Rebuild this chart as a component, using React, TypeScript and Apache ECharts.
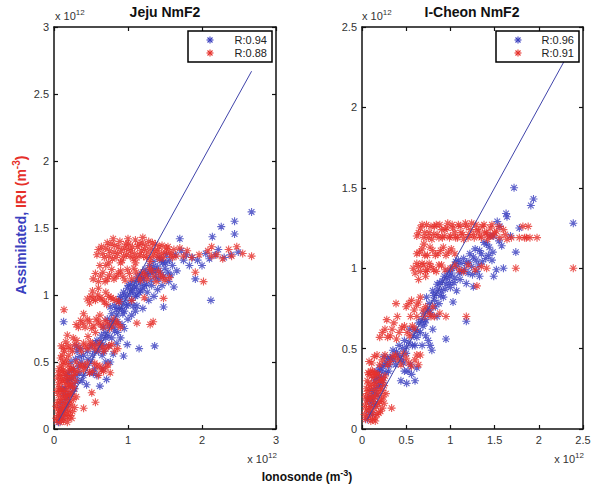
import { useEffect, useRef } from "react";
import * as echarts from "echarts";

// values in units of 10^12 m^-3
const JEJU_ASSIMILATED: [number, number][] = [
  [0.06,0.05],[0.08,0.09],[0.10,0.12],[0.12,0.08],[0.09,0.16],[0.14,0.14],[0.11,0.20],[0.16,0.22],[0.13,0.26],[0.18,0.18],
  [0.20,0.26],[0.15,0.30],[0.22,0.32],[0.18,0.36],[0.24,0.38],[0.20,0.42],[0.27,0.34],[0.26,0.45],[0.30,0.40],[0.23,0.50],
  [0.29,0.52],[0.33,0.47],[0.35,0.54],[0.31,0.58],[0.13,0.80],
  [0.38,0.36],[0.44,0.33],[0.48,0.42],[0.53,0.415],[0.58,0.40],[0.62,0.32],[0.66,0.45],[0.71,0.37],[0.70,0.50],[0.76,0.50],
  [0.80,0.56],[0.94,0.545],[0.85,0.64],[0.99,0.63],[0.90,0.68],[0.82,0.73],[0.95,0.75],
  [0.40,0.55],[0.45,0.58],[0.50,0.62],[0.55,0.58],[0.58,0.66],[0.62,0.62],[0.64,0.70],[0.67,0.76],[0.70,0.68],[0.72,0.82],
  [0.75,0.77],[0.76,0.91],[0.78,0.86],[0.80,0.80],[0.82,0.92],[0.85,0.85],[0.87,0.95],[0.88,0.90],[0.90,0.99],[0.92,0.94],
  [0.94,1.02],[0.95,0.88],[0.97,0.97],[0.99,1.05],[1.00,0.93],
  [1.02,1.00],[1.03,1.08],[1.05,0.96],[1.06,1.03],[1.08,1.10],[1.10,0.99],[1.11,1.06],[1.13,1.14],[1.15,1.02],[1.16,1.09],
  [1.18,1.16],[1.20,1.05],[1.21,1.12],[1.23,1.19],[1.25,1.08],[1.27,1.15],[1.29,1.22],[1.31,1.11],[1.33,1.18],[1.35,1.25],
  [1.37,1.14],[1.40,1.21],[1.42,1.28],[1.44,1.17],[1.47,1.24],[1.50,1.20],[1.52,1.30],
  [1.05,0.85],[1.12,0.92],[1.20,0.90],[1.28,0.96],[1.35,0.99],[1.48,0.91],[1.36,0.62],[1.15,0.60],[1.40,1.04],[1.46,1.07],
  [1.55,1.10],[1.62,1.06],[1.58,1.15],
  [1.56,1.26],[1.60,1.22],[1.64,1.30],[1.66,1.18],[1.70,1.42],[1.72,1.33],[1.75,1.26],[1.79,1.30],[1.83,1.22],[1.87,1.28],
  [1.91,1.12],[1.94,1.26],[2.00,1.22],[2.05,1.31],[2.10,1.27],[2.12,0.96],[2.14,1.435],[2.18,1.30],[2.22,1.34],[2.26,1.51],
  [2.30,1.28],[2.39,1.30],[2.44,1.55],[2.44,1.455],[2.49,1.32],[2.67,1.62],
  [0.34,0.42],[0.37,0.50],[0.42,0.47],[0.46,0.52],[0.52,0.55],[0.56,0.64],[0.60,0.58],[0.63,0.66],[0.66,0.63],[0.69,0.72],
  [0.73,0.70],[0.77,0.81],[0.81,0.76],[0.84,0.89],[0.86,0.80],[0.89,0.97],[0.91,0.90],[0.93,0.86],[0.96,1.00],[0.98,0.92],
  [1.01,1.07],[1.04,1.03],[1.07,0.92],[1.09,1.06],[1.12,1.00],[1.14,1.11],[1.17,1.03],[1.19,1.13],[1.22,1.07],[1.24,1.16],
  [1.26,1.02],[1.30,1.17],[1.32,1.07],[1.34,1.21],[1.38,1.18],[1.41,1.12],[1.45,1.26],[1.48,1.14],[1.51,1.24],[1.54,1.17],
  [0.16,0.40],[0.21,0.37],[0.25,0.28],[0.28,0.30],[0.19,0.24],[0.12,0.30],[0.24,0.44],[0.32,0.36],[0.40,0.40],[0.50,0.50],
  [0.55,0.45],[0.65,0.55],[0.74,0.62],[0.68,0.58],[0.78,0.68],[0.86,0.72],[0.92,0.78],[1.00,0.82],[1.10,0.88],[0.30,0.62],
  [0.36,0.60],
];

const JEJU_IRI: [number, number][] = [
  [0.04,0.06],[0.06,0.10],[0.05,0.15],[0.08,0.05],[0.07,0.20],[0.09,0.13],[0.10,0.07],[0.11,0.17],[0.12,0.24],[0.08,0.28],
  [0.06,0.33],[0.10,0.30],[0.13,0.12],[0.14,0.20],[0.15,0.28],[0.12,0.36],[0.09,0.40],[0.16,0.10],[0.17,0.17],[0.18,0.25],
  [0.16,0.33],[0.13,0.44],[0.10,0.47],[0.19,0.08],[0.20,0.14],[0.21,0.21],[0.19,0.30],[0.18,0.38],[0.15,0.49],[0.22,0.10],
  [0.23,0.18],[0.24,0.26],[0.22,0.34],[0.25,0.13],[0.26,0.22],[0.27,0.30],[0.07,0.45],[0.05,0.38],[0.11,0.55],[0.14,0.58],
  [0.28,0.16],[0.06,0.25],[0.03,0.08],[0.30,0.24],
  [0.05,0.20],[0.07,0.12],[0.09,0.22],[0.11,0.09],[0.12,0.15],[0.13,0.28],[0.14,0.36],[0.15,0.16],[0.16,0.24],[0.17,0.40],
  [0.18,0.12],[0.19,0.20],[0.20,0.33],[0.21,0.44],[0.22,0.26],[0.23,0.38],[0.24,0.08],[0.25,0.32],[0.26,0.40],[0.08,0.35],
  [0.10,0.38],[0.11,0.43],[0.12,0.50],[0.09,0.53],[0.07,0.30],[0.06,0.42],[0.17,0.52],[0.20,0.55],[0.04,0.28],[0.03,0.17],
  [0.29,0.36],[0.28,0.42],[0.13,0.06],[0.18,0.05],[0.15,0.42],
  [0.51,0.27],[0.56,0.20],[0.40,0.155],[0.135,0.89],
  [0.20,0.48],[0.26,0.45],[0.30,0.50],[0.35,0.47],[0.40,0.44],[0.45,0.49],[0.52,0.43],[0.58,0.47],[0.64,0.44],[0.70,0.46],
  [0.76,0.42],[0.60,0.40],
  [0.23,0.45],[0.32,0.43],[0.38,0.48],[0.43,0.46],[0.48,0.42],[0.55,0.49],[0.62,0.47],[0.67,0.43],[0.73,0.48],
  [0.10,0.62],[0.16,0.65],[0.22,0.60],[0.28,0.63],[0.34,0.61],[0.40,0.64],[0.46,0.60],[0.52,0.63],[0.58,0.59],[0.64,0.62],
  [0.70,0.60],[0.78,0.63],[0.86,0.60],[0.18,0.70],[0.26,0.68],
  [0.13,0.60],[0.19,0.62],[0.25,0.58],[0.31,0.66],[0.37,0.58],[0.43,0.62],[0.49,0.65],[0.55,0.61],[0.61,0.64],[0.67,0.58],
  [0.74,0.62],[0.82,0.58],
  [0.30,0.78],[0.36,0.81],[0.42,0.76],[0.48,0.80],[0.54,0.77],[0.60,0.80],[0.66,0.76],[0.72,0.79],[0.78,0.77],[0.84,0.80],
  [0.90,0.76],[1.12,0.79],[1.30,0.78],[1.34,0.80],[0.46,0.69],[0.40,0.86],
  [0.33,0.76],[0.39,0.79],[0.45,0.82],[0.51,0.75],[0.57,0.82],[0.63,0.78],[0.69,0.81],[0.75,0.75],[0.81,0.82],[0.87,0.78],
  [0.56,0.72],[0.62,0.85],
  [0.45,0.97],[0.50,0.99],[0.56,0.96],[0.62,0.98],[0.68,0.95],[0.74,0.99],[0.80,0.97],[0.88,0.95],[1.05,0.96],[1.22,0.98],
  [1.48,0.975],[0.52,1.03],[0.60,1.05],[0.70,1.02],
  [0.48,0.94],[0.53,0.97],[0.59,1.00],[0.65,0.97],[0.71,0.93],[0.77,0.98],[0.84,0.96],
  [0.53,1.12],[0.60,1.10],[0.66,1.17],[0.72,1.12],[0.78,1.19],[0.84,1.14],[0.90,1.18],[0.96,1.11],[1.02,1.16],[1.08,1.20],
  [1.14,1.13],[1.20,1.17],[1.26,1.12],[1.32,1.18],[1.38,1.10],[1.44,1.15],[1.50,1.11],[1.56,1.13],[0.62,1.22],[0.74,1.24],
  [0.56,1.16],[0.63,1.14],[0.69,1.10],[0.75,1.15],[0.81,1.12],[0.87,1.16],[0.93,1.14],[0.99,1.19],[1.05,1.12],[1.11,1.17],
  [1.17,1.11],[1.23,1.15],[1.29,1.20],[1.35,1.14],[1.41,1.18],[1.47,1.13],
  [0.58,1.30],[0.64,1.36],[0.68,1.28],[0.72,1.39],[0.75,1.33],[0.79,1.27],[0.82,1.37],[0.86,1.31],[0.89,1.40],[0.92,1.26],
  [0.95,1.35],[0.98,1.30],[1.01,1.38],[1.04,1.33],[1.07,1.27],[1.10,1.41],[1.13,1.36],[1.16,1.30],[1.19,1.39],[1.22,1.34],
  [1.25,1.28],[1.28,1.40],[1.31,1.35],[1.34,1.30],[1.37,1.38],[1.40,1.33],[1.43,1.27],[1.46,1.37],[1.50,1.32],[1.54,1.36],
  [1.58,1.30],[1.62,1.34],[0.80,1.42],[1.00,1.42],[1.20,1.43],[0.70,1.22],[1.65,1.29],[1.70,1.35],
  [0.60,1.34],[0.66,1.31],[0.70,1.35],[0.74,1.29],[0.77,1.38],[0.81,1.32],[0.84,1.28],[0.87,1.36],[0.91,1.33],[0.94,1.29],
  [0.97,1.38],[1.00,1.34],[1.03,1.29],[1.06,1.36],[1.09,1.31],[1.12,1.28],[1.15,1.38],[1.18,1.33],[1.21,1.29],[1.24,1.37],
  [1.27,1.32],[1.30,1.28],[1.33,1.39],[1.36,1.33],[1.39,1.29],[1.42,1.36],[1.45,1.31],[1.48,1.28],[1.52,1.35],[1.56,1.32],
  [1.60,1.28],[0.90,1.24],[1.10,1.24],[1.30,1.25],
  [1.75,1.29],[1.80,1.33],[1.86,1.28],[1.91,1.17],[1.96,1.30],[2.02,1.10],[2.08,1.33],[2.13,1.36],[2.13,1.29],[2.20,1.30],
  [2.28,1.27],[2.36,1.34],[2.40,1.29],[2.47,1.36],[2.55,1.31],[2.67,1.29],
];

const ICHEON_ASSIMILATED: [number, number][] = [
  [0.06,0.06],[0.08,0.10],[0.10,0.14],[0.07,0.18],[0.12,0.09],[0.13,0.19],[0.11,0.24],[0.15,0.15],[0.16,0.25],[0.14,0.30],
  [0.18,0.21],[0.19,0.31],[0.17,0.36],[0.21,0.27],[0.22,0.36],[0.20,0.38],[0.24,0.32],[0.26,0.40],[0.28,0.41],[0.25,0.45],
  [0.30,0.36],[0.32,0.44],
  [0.35,0.49],[0.38,0.40],[0.40,0.46],[0.42,0.52],[0.45,0.43],[0.47,0.41],[0.48,0.55],[0.505,0.51],[0.505,0.284],[0.52,0.36],
  [0.54,0.62],[0.56,0.34],[0.58,0.58],[0.60,0.52],[0.62,0.57],[0.64,0.66],[0.66,0.60],[0.69,0.64],[0.70,0.72],[0.72,0.68],
  [0.73,0.82],[0.75,0.55],[0.76,0.78],[0.77,0.74],[0.77,0.52],[0.79,0.49],[0.80,0.86],[0.82,0.80],[0.84,0.84],[0.85,0.90],
  [0.87,0.78],[0.88,0.91],[0.90,0.86],[0.92,0.82],[0.93,0.95],[0.95,0.56],[0.95,0.90],[0.97,0.98],[0.995,0.95],[1.00,0.88],
  [1.02,1.00],[1.03,0.79],[1.05,0.94],[1.07,1.01],[1.07,0.86],[1.09,1.05],[1.11,0.93],[1.13,0.98],[1.15,1.06],[1.18,1.03],
  [1.18,0.905],[1.18,0.67],[1.20,0.97],[1.22,1.09],[1.24,1.01],[1.26,1.07],[1.26,0.885],[1.28,1.12],[1.30,0.98],[1.33,1.11],
  [1.33,0.95],[1.36,1.04],[1.38,1.16],[1.41,1.15],[1.43,1.08],[1.45,1.20],[1.47,1.05],[1.49,1.20],[1.49,0.95],[1.52,0.99],
  [1.53,1.29],[1.56,1.26],[1.58,1.14],[1.60,1.00],[1.63,1.34],[1.64,1.32],[1.68,1.20],[1.72,1.50],[1.74,1.10],[1.78,1.25],
  [1.91,1.39],[1.94,1.43],[2.39,1.28],[0.60,0.30],[0.62,0.38],[0.44,0.30],
  [0.09,0.20],[0.11,0.17],[0.14,0.22],[0.16,0.32],[0.18,0.27],[0.20,0.33],[0.23,0.29],[0.23,0.39],[0.27,0.35],[0.29,0.44],
  [0.31,0.40],[0.34,0.45],[0.36,0.43],[0.39,0.48],[0.43,0.45],[0.46,0.50],[0.50,0.47],[0.53,0.54],[0.57,0.52],[0.59,0.62],
  [0.63,0.61],[0.67,0.68],[0.71,0.66],[0.74,0.74],[0.78,0.71],[0.81,0.83],[0.83,0.76],[0.86,0.87],[0.89,0.83],[0.91,0.92],
  [0.94,0.87],[0.96,0.94],[0.99,0.91],[1.01,0.97],[1.04,0.91],[1.06,1.04],[1.10,0.97],[1.12,1.03],[1.16,0.99],[1.21,1.04],
  [1.25,0.96],[1.29,1.05],[1.32,1.02],[1.35,1.09],[1.40,1.06],[1.44,1.13],[1.48,1.10],[1.55,1.17],[0.72,0.58],[0.80,0.62],
  [0.68,0.52],[0.85,0.70],[0.55,0.40],[0.48,0.36],
];

const ICHEON_IRI: [number, number][] = [
  [0.04,0.06],[0.05,0.12],[0.06,0.18],[0.07,0.08],[0.08,0.24],[0.09,0.14],[0.10,0.05],[0.10,0.20],[0.11,0.28],[0.06,0.30],
  [0.12,0.10],[0.13,0.17],[0.14,0.24],[0.13,0.32],[0.08,0.34],[0.15,0.07],[0.16,0.14],[0.17,0.21],[0.16,0.29],[0.18,0.34],
  [0.19,0.10],[0.20,0.17],[0.21,0.25],[0.22,0.31],[0.23,0.13],[0.24,0.20],[0.25,0.27],[0.05,0.25],[0.12,0.36],[0.03,0.09],
  [0.26,0.33],[0.335,0.13],
  [0.05,0.16],[0.06,0.22],[0.07,0.28],[0.08,0.12],[0.09,0.19],[0.10,0.26],[0.11,0.33],[0.12,0.06],[0.13,0.13],[0.14,0.20],
  [0.15,0.27],[0.16,0.34],[0.17,0.09],[0.18,0.16],[0.19,0.23],[0.20,0.30],[0.21,0.11],[0.22,0.18],[0.23,0.24],[0.24,0.30],
  [0.07,0.35],[0.10,0.36],[0.14,0.35],[0.04,0.20],[0.04,0.14],[0.25,0.16],[0.27,0.22],[0.15,0.05],
  [0.08,0.42],[0.14,0.45],[0.20,0.40],[0.26,0.46],[0.32,0.42],[0.38,0.46],[0.44,0.40],[0.50,0.44],[0.56,0.39],[0.60,0.43],
  [0.64,0.40],[0.66,0.46],
  [0.11,0.41],[0.17,0.46],[0.23,0.43],[0.29,0.40],[0.35,0.45],[0.41,0.43],[0.47,0.47],[0.53,0.41],[0.62,0.46],
  [0.20,0.57],[0.26,0.62],[0.32,0.58],[0.36,0.66],[0.42,0.60],[0.48,0.64],[0.54,0.58],[0.60,0.62],[0.28,0.68],[0.40,0.70],
  [0.23,0.60],[0.29,0.57],[0.34,0.62],[0.39,0.56],[0.45,0.63],[0.51,0.60],[0.57,0.64],
  [0.385,0.78],[0.50,0.76],[0.56,0.80],[0.62,0.77],[0.66,0.82],[0.69,0.74],[0.55,0.70],[0.62,0.70],[0.70,0.70],[0.76,0.72],
  [0.82,0.70],[0.95,0.70],[1.18,0.70],[1.30,0.89],[0.80,0.76],
  [0.53,0.78],[0.59,0.74],[0.64,0.79],[0.72,0.76],[0.78,0.70],[0.88,0.72],
  [0.58,1.00],[0.62,1.03],[0.66,0.98],[0.70,1.02],[0.74,0.99],[0.78,1.01],[0.84,0.98],[0.90,1.02],[1.00,1.00],[1.10,0.99],
  [1.20,1.02],[1.28,0.99],[1.35,1.01],[1.41,1.00],[1.74,1.00],[2.39,1.00],[0.64,0.93],[0.72,0.95],
  [0.60,0.97],[0.64,1.01],[0.68,1.03],[0.72,0.98],[0.76,1.03],[0.81,0.99],[0.87,1.02],[0.94,0.99],[1.05,1.02],[1.15,0.98],
  [0.62,1.09],[0.68,1.12],[0.74,1.08],[0.80,1.11],[0.86,1.09],[0.92,1.13],[0.98,1.10],[1.05,1.09],[0.70,1.15],
  [0.65,1.10],[0.71,1.08],[0.77,1.13],[0.83,1.08],[0.89,1.11],[0.95,1.08],[1.01,1.12],
  [0.62,1.20],[0.66,1.25],[0.70,1.19],[0.73,1.27],[0.76,1.22],[0.79,1.18],[0.82,1.26],[0.85,1.21],[0.88,1.27],[0.91,1.19],
  [0.94,1.24],[0.97,1.28],[1.00,1.20],[1.03,1.25],[1.06,1.19],[1.09,1.27],[1.12,1.22],[1.15,1.18],[1.18,1.26],[1.21,1.21],
  [1.24,1.28],[1.27,1.19],[1.30,1.24],[1.33,1.20],[1.36,1.26],[1.39,1.22],[1.42,1.18],[1.45,1.25],[1.48,1.20],[1.52,1.23],
  [1.56,1.19],[1.60,1.24],[1.64,1.18],[1.69,1.19],[1.78,1.19],[1.84,1.19],[1.88,1.26],[1.90,1.19],[1.98,1.19],
  [0.64,1.22],[0.68,1.27],[0.71,1.22],[0.75,1.19],[0.78,1.26],[0.81,1.21],[0.84,1.27],[0.87,1.19],[0.90,1.24],[0.93,1.20],
  [0.96,1.25],[0.99,1.19],[1.02,1.27],[1.05,1.22],[1.08,1.19],[1.11,1.26],[1.14,1.21],[1.17,1.28],[1.20,1.19],[1.23,1.24],
  [1.26,1.21],[1.29,1.27],[1.32,1.23],[1.35,1.19],[1.38,1.27],[1.41,1.22],[1.44,1.20],[1.47,1.27],[1.50,1.22],[1.55,1.26],
  [1.62,1.21],[1.82,1.26],[1.86,1.19],
];

const TITLES = ["Jeju NmF2", "I-Cheon NmF2"];
const JEJU_LEGEND = ["R:0.94", "R:0.88"];
const ICHEON_LEGEND = ["R:0.96", "R:0.91"];
const JEJU_X_AXIS = [0, 3, 1]; // min, max, interval
const JEJU_Y_AXIS = [0, 3, 0.5];
const ICHEON_X_AXIS = [0, 2.5, 0.5];
const ICHEON_Y_AXIS = [0, 2.5, 0.5];

const BLUE = "#3a3fbf";
const RED = "#e6302a";
const LINE_BLUE = "#4044aa";
const FONT = '"Liberation Sans", Arial, Helvetica, sans-serif';
const ASTERISK = "path://M0,5L10,5M5,0L5,10M1.46,1.46L8.54,8.54M1.46,8.54L8.54,1.46";

const GRIDS = [
  { left: 54, top: 27, width: 222, height: 402 },
  { left: 362, top: 27, width: 221, height: 402 },
];
const LEGEND_BOXES = [
  { x: 188, y: 31, width: 84, height: 31 },
  { x: 496, y: 31, width: 83, height: 31 },
];

function axisPair(kind: "x" | "y", grid: number, range: number[]) {
  const [min, max, interval] = range;
  const common = {
    gridIndex: grid,
    type: "value",
    min,
    max,
    interval,
    splitLine: { show: false },
    axisLine: { show: true, onZero: false, lineStyle: { color: "#111", width: 1.5 } },
    axisTick: { show: true, inside: true, length: 4, lineStyle: { color: "#111", width: 1.2 } },
  };
  return [
    {
      ...common,
      position: kind === "x" ? "bottom" : "left",
      axisLabel: {
        show: true,
        fontSize: 11,
        color: "#333",
        fontFamily: FONT,
        margin: 5,
        showMinLabel: true,
        showMaxLabel: true,
      },
    },
    {
      ...common,
      position: kind === "x" ? "top" : "right",
      axisLabel: { show: false },
    },
  ];
}

function extent(pts: [number, number][]) {
  const xs = pts.map((p) => p[0]);
  return [Math.min(...xs), Math.max(...xs)];
}

function panelSeries(idx: number, blue: [number, number][], red: [number, number][], names: string[]) {
  const axisIdx = idx * 2;
  const [lo, hi] = extent(blue);
  const base = {
    type: "scatter",
    xAxisIndex: axisIdx,
    yAxisIndex: axisIdx,
    symbol: ASTERISK,
    symbolSize: 8,
  };
  return [
    { ...base, name: names[0], data: blue, itemStyle: { color: BLUE, borderColor: BLUE, borderWidth: 1.1 } },
    { ...base, name: names[1], data: red, itemStyle: { color: RED, borderColor: RED, borderWidth: 1.1 } },
    {
      type: "line",
      xAxisIndex: axisIdx,
      yAxisIndex: axisIdx,
      data: [[lo, lo], [hi, hi]],
      symbol: "none",
      z: 3,
      lineStyle: { color: LINE_BLUE, width: 1 },
    },
  ];
}

function asterisk(cx: number, cy: number, color: string) {
  const r = 3.5;
  const d = 2.5;
  const seg = (x1: number, y1: number, x2: number, y2: number) => ({
    type: "line",
    z: 101,
    shape: { x1, y1, x2, y2 },
    style: { stroke: color, lineWidth: 1.1 },
  });
  return {
    type: "group",
    x: cx,
    y: cy,
    z: 101,
    children: [seg(-r, 0, r, 0), seg(0, -r, 0, r), seg(-d, -d, d, d), seg(-d, d, d, -d)],
  };
}

function legendGraphic(box: { x: number; y: number; width: number; height: number }, names: string[]) {
  const starX = box.x + 22;
  const textX = box.x + box.width - 5;
  const rows = [box.y + 9, box.y + 22];
  return [
    {
      type: "rect",
      z: 100,
      shape: { ...box },
      style: { fill: "#fff", stroke: "#000", lineWidth: 1.5 },
    },
    asterisk(starX, rows[0], BLUE),
    asterisk(starX, rows[1], RED),
    ...names.map((n, i) => ({
      type: "text",
      z: 101,
      x: textX,
      y: rows[i],
      style: { text: n, fontSize: 11, fontFamily: FONT, fill: "#222", align: "right", verticalAlign: "middle" },
    })),
  ];
}

function expLabel(x: number, y: number, align: string) {
  return {
    type: "text",
    x,
    y,
    z: 100,
    style: {
      text: "{a|x 10}{s|12}",
      align,
      verticalAlign: "middle",
      rich: {
        a: { fontSize: 11, fontFamily: FONT, fill: "#333", lineHeight: 16 },
        s: { fontSize: 8, fontFamily: FONT, fill: "#333", verticalAlign: "top", lineHeight: 16 },
      },
    },
  };
}

export default function App() {
  const ref = useRef<HTMLDivElement>(null);
  useEffect(() => {
    if (!ref.current) return;
    const chart = echarts.init(ref.current, undefined, { renderer: "svg" });
    const [jx1, jx2] = axisPair("x", 0, JEJU_X_AXIS);
    const [jy1, jy2] = axisPair("y", 0, JEJU_Y_AXIS);
    const [cx1, cx2] = axisPair("x", 1, ICHEON_X_AXIS);
    const [cy1, cy2] = axisPair("y", 1, ICHEON_Y_AXIS);
    chart.setOption({
      animation: false,
      backgroundColor: "#fff",
      grid: GRIDS,
      xAxis: [jx1, jx2, cx1, cx2],
      yAxis: [jy1, jy2, cy1, cy2],
      series: [
        ...panelSeries(0, JEJU_ASSIMILATED, JEJU_IRI, JEJU_LEGEND),
        ...panelSeries(1, ICHEON_ASSIMILATED, ICHEON_IRI, ICHEON_LEGEND),
      ],
      graphic: [
        {
          type: "text",
          x: 165,
          y: 12,
          z: 100,
          style: { text: TITLES[0], fontSize: 14, fontWeight: "bold", fontFamily: FONT, fill: "#111", align: "center", verticalAlign: "middle" },
        },
        {
          type: "text",
          x: 472,
          y: 12,
          z: 100,
          style: { text: TITLES[1], fontSize: 14, fontWeight: "bold", fontFamily: FONT, fill: "#111", align: "center", verticalAlign: "middle" },
        },
        ...legendGraphic(LEGEND_BOXES[0], JEJU_LEGEND),
        ...legendGraphic(LEGEND_BOXES[1], ICHEON_LEGEND),
        expLabel(55, 16, "left"),
        expLabel(362, 16, "left"),
        expLabel(277, 459, "right"),
        expLabel(584, 459, "right"),
        {
          type: "text",
          x: 307,
          y: 477,
          z: 100,
          style: {
            text: "{a|Ionosonde (m}{s|-3}{a|)}",
            align: "center",
            verticalAlign: "middle",
            rich: {
              a: { fontSize: 12, fontWeight: "bold", fontFamily: FONT, fill: "#111", lineHeight: 18 },
              s: { fontSize: 9, fontWeight: "bold", fontFamily: FONT, fill: "#111", verticalAlign: "top", lineHeight: 18 },
            },
          },
        },
        {
          type: "text",
          x: 21,
          y: 225,
          z: 100,
          rotation: Math.PI / 2,
          style: {
            text: "{b|Assimilated, }{r|IRI (m}{s|-3}{r|)}",
            align: "center",
            verticalAlign: "middle",
            rich: {
              b: { fontSize: 14, fontWeight: "bold", fontFamily: FONT, fill: BLUE, lineHeight: 20 },
              r: { fontSize: 14, fontWeight: "bold", fontFamily: FONT, fill: RED, lineHeight: 20 },
              s: { fontSize: 10, fontWeight: "bold", fontFamily: FONT, fill: RED, verticalAlign: "top", lineHeight: 20 },
            },
          },
        },
      ],
    });
    return () => chart.dispose();
  }, []);
  return (
    <div
      ref={ref}
      style={{ position: "absolute", left: 0, top: 0, width: 601, height: 490, background: "#fff" }}
    />
  );
}
